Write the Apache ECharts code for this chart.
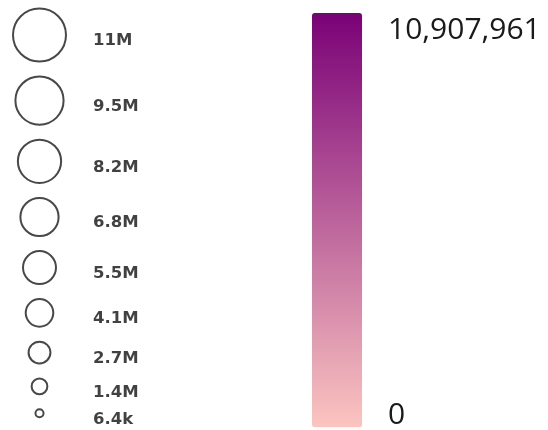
<!DOCTYPE html>
<html lang="en">
<head>
    <meta charset="UTF-8">
    <title>Size and colour legend</title>
    <script src="https://cdn.jsdelivr.net/npm/echarts@6/dist/echarts.min.js"></script>
    <style>
        *{
            padding: 0;
            margin: 0;
        }
        body{
            background: #ffffff;
        }
        #legend_chart{
            width: 548px;
            height: 430px;
        }
    </style>
</head>
<body>
<div id="legend_chart"></div>
<script>
    // size legend breaks (largest first) and their labels
    var sizeLabels = ['11M', '9.5M', '8.2M', '6.8M', '5.5M', '4.1M', '2.7M', '1.4M', '6.4k'];
    var sizeValues = [10907961, 9545000, 8183000, 6820000, 5457000, 4094000, 2732000, 1369000, 6400];
    // colour scale ends
    var colorMin = 0;
    var colorMax = 10907961;
    var colorRange = ['#fcc5c0', '#7a0177'];

    var minSym = 8, maxSym = 53;   // circle diameters, px
    var lineW = 2;
    var gap = 13;                  // gap between circle outlines
    var circleX = 39.5, labelX = 92;

    function symSize(v) {
        return minSym + (maxSym - minSym) * Math.pow(v / colorMax, 0.85);
    }

    // stack the circles top to bottom from their sizes
    var points = [];
    var y = 35;
    for (var i = 0; i < sizeValues.length; i++) {
        var s = symSize(sizeValues[i]);
        if (i > 0) {
            y += (symSize(sizeValues[i - 1]) + lineW) / 2 + (s + lineW) / 2 + gap;
        }
        points.push({
            value: [circleX, y, sizeValues[i]],
            symbolSize: s,
            label: {
                distance: labelX - circleX - s / 2
            }
        });
    }

    var my_chart = echarts.init(document.getElementById('legend_chart'));
    my_chart.setOption({
        backgroundColor: '#ffffff',
        animation: false,
        grid: {left: 0, right: 0, top: 0, bottom: 0},
        xAxis: {type: 'value', min: 0, max: 548, show: false},
        yAxis: {type: 'value', min: 0, max: 430, inverse: true, show: false},
        visualMap: {
            type: 'continuous',
            min: colorMin,
            max: colorMax,
            left: 312,
            top: 13,
            itemWidth: 50,
            itemHeight: 414,
            padding: 0,
            calculable: false,
            seriesIndex: 1,
            inRange: {color: colorRange}
        },
        graphic: [
            {
                type: 'text',
                left: 388,
                top: 15,
                style: {
                    text: colorMax.toLocaleString('en-US'),
                    font: '30px "Open Sans"',
                    fill: '#1a1a1a'
                }
            },
            {
                type: 'text',
                left: 388,
                top: 400,
                style: {
                    text: colorMin.toLocaleString('en-US'),
                    font: '30px "Open Sans"',
                    fill: '#1a1a1a'
                }
            }
        ],
        series: [
            {
                type: 'scatter',
                silent: true,
                data: points,
                itemStyle: {
                    color: 'rgba(0,0,0,0)',
                    borderColor: '#1a1a1a',
                    borderWidth: lineW
                },
                label: {
                    show: true,
                    position: 'right',
                    offset: [0, 6],
                    fontFamily: 'DejaVu Sans',
                    fontWeight: 'bold',
                    fontSize: 16.5,
                    color: '#111',
                    formatter: function (p) {
                        return sizeLabels[p.dataIndex];
                    }
                }
            },
            {
                type: 'scatter',
                data: []
            }
        ]
    });
</script>
</body>
</html>
